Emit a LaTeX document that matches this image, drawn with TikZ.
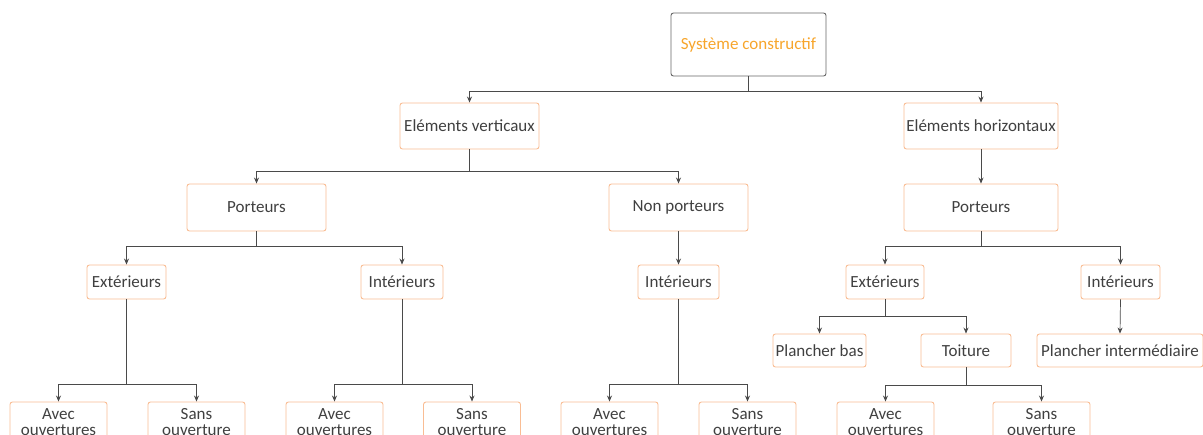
\documentclass[tikz,border=0pt]{standalone}
\usepackage{fontspec}
\setmainfont{Carlito}
\usetikzlibrary{arrows.meta}
\definecolor{boxorange}{HTML}{F9BD94}
\definecolor{titleorange}{HTML}{F7A52B}
\definecolor{txt}{HTML}{404040}
\definecolor{linegray}{HTML}{4A4A4A}
\tikzset{
  box/.style={draw=boxorange, line width=0.9pt, rounded corners=2.5pt, fill=white, text=txt, font=\fontsize{17}{15.5}\selectfont, inner sep=2pt, align=center},
  topbox/.style={draw=gray!80!black, line width=0.9pt, rounded corners=2.5pt, text=titleorange, font=\fontsize{17}{19}\selectfont},
  arr/.style={draw=linegray, line width=0.7pt, -{Stealth[length=6pt,width=5pt]}},
  conn/.style={draw=linegray, line width=0.7pt}
}
\begin{document}
\begin{tikzpicture}[x=1pt,y=-1pt]
\useasboundingbox (0,0) rectangle (1203,435);
\clip (0,0) rectangle (1203,435);
% top
\node[topbox, minimum width=155, minimum height=63] (top) at (748.5,44.5) {Système constructif};
% level 1
\node[box, minimum width=139, minimum height=46] (ev) at (469.5,126) {Eléments verticaux};
\node[box, minimum width=154, minimum height=46] (eh) at (981,126) {Eléments horizontaux};
% level 2
\node[box, minimum width=139, minimum height=47] (pl) at (256.5,207.5) {Porteurs};
\node[box, minimum width=139, minimum height=47] (np) at (678.5,207.5) {Non porteurs};
\node[box, minimum width=154, minimum height=47] (pr) at (981,207.5) {Porteurs};
% level 3
\node[box, minimum width=79, minimum height=34] (el) at (126.5,282) {Extérieurs};
\node[box, minimum width=82, minimum height=34] (il) at (402,282) {Intérieurs};
\node[box, minimum width=81, minimum height=34] (in) at (678.5,282) {Intérieurs};
\node[box, minimum width=78, minimum height=34] (er) at (885,282) {Extérieurs};
\node[box, minimum width=79, minimum height=34] (ir) at (1120.5,282) {Intérieurs};
% level 4 right
\node[box, minimum width=93, minimum height=33] (pb) at (819.5,350.5) {Plancher bas};
\node[box, minimum width=90, minimum height=33] (to) at (966,350.5) {Toiture};
\node[box, minimum width=166, minimum height=33] (pi) at (1120,350.5) {Plancher intermédiaire};
% bottom boxes
\node[box, minimum width=97, minimum height=40] (a1) at (58.5,422) {Avec\\ouvertures};
\node[box, minimum width=97, minimum height=40] (s1) at (196.5,422) {Sans\\ouverture};
\node[box, minimum width=97, minimum height=40] (a2) at (334.5,422) {Avec\\ouvertures};
\node[box, minimum width=97, minimum height=40] (s2) at (472,422) {Sans\\ouverture};
\node[box, minimum width=97, minimum height=40] (a3) at (609.5,422) {Avec\\ouvertures};
\node[box, minimum width=97, minimum height=40] (s3) at (747.5,422) {Sans\\ouverture};
\node[box, minimum width=97, minimum height=40] (a4) at (885.5,422) {Avec\\ouvertures};
\node[box, minimum width=97, minimum height=40] (s4) at (1041.5,422) {Sans\\ouverture};
% connectors
\draw[arr] (top.south) |- ++(0,15) -| (ev.north);
\draw[arr] (top.south) |- ++(0,15) -| (eh.north);
\draw[arr] (ev.south) |- ++(0,22) -| (pl.north);
\draw[arr] (ev.south) |- ++(0,22) -| (np.north);
\draw[arr] (eh.south) -- (pr.north);
\draw[arr] (pl.south) |- ++(0,15) -| (el.north);
\draw[arr] (pl.south) |- ++(0,15) -| (il.north);
\draw[arr] (np.south) -- (in.north);
\draw[arr] (pr.south) |- ++(0,15) -| (er.north);
\draw[arr] (pr.south) |- ++(0,15) -| (ir.north);
\draw[arr] (er.south) |- ++(0,17) -| (pb.north);
\draw[arr] (er.south) |- ++(0,17) -| (to.north);
\draw[arr] (ir.south) -- (pi.north);
\draw[arr] (to.south) |- ++(0,18) -| (a4.north);
\draw[arr] (to.south) |- ++(0,18) -| (s4.north);
\draw[arr] (el.south) |- ++(0,85) -| (a1.north);
\draw[arr] (el.south) |- ++(0,85) -| (s1.north);
\draw[arr] (il.south) |- ++(0,85) -| (a2.north);
\draw[arr] (il.south) |- ++(0,85) -| (s2.north);
\draw[arr] (in.south) |- ++(0,85) -| (a3.north);
\draw[arr] (in.south) |- ++(0,85) -| (s3.north);
\end{tikzpicture}
\end{document}
